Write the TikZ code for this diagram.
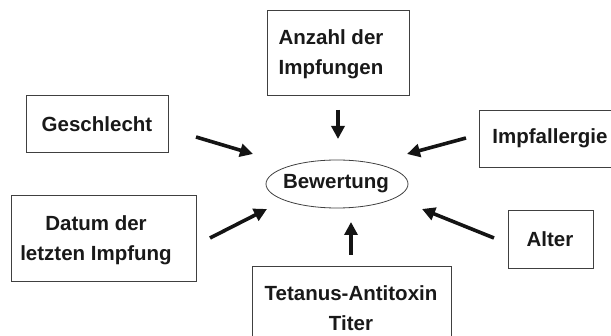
\documentclass[tikz,border=0pt]{standalone}
\usepackage{fontspec}
\setmainfont{Liberation Sans}
\usetikzlibrary{arrows.meta,shapes.geometric}
\begin{document}
\begin{tikzpicture}[x=1pt,y=-1pt,
  box/.style={draw=black!75,line width=0.8pt},
  lbl/.style={font=\fontsize{20.5}{29.5}\selectfont\bfseries,align=center,inner sep=0pt,text=black!90},
  arr/.style={line width=3.6pt,-{Triangle[length=13pt,width=13pt]},black!92}]
\useasboundingbox (0,0) rectangle (611,336);
% boxes
\draw[box] (267,10) rectangle (409,95);
\draw[box] (26,95) rectangle (168,152);
\draw[box] (11,195) rectangle (196,281);
\draw[box] (252,266) rectangle (451,345);
\draw[box] (479,110) rectangle (618,167);
\draw[box] (508,210) rectangle (593,268);
% labels
\node[lbl] (anz) at (331,54) {Anzahl der\\Impfungen};
\node[lbl] (ges) at (97,124) {Geschlecht};
\node[lbl] (dat) at (96,240) {Datum der\\letzten Impfung};
\node[lbl] (tet) at (351,308) {Tetanus-Antitoxin\\Titer};
\node[lbl] (all) at (550,138) {Impfallergie};
\node[lbl] (alt) at (550,239) {Alter};
\node[draw=black!75,line width=0.8pt,ellipse,minimum width=142pt,minimum height=48pt,inner sep=0pt] (bew) at (337,184) {};
\node[lbl] (bewt) at (336,184) {Bewertung};
% arrow ends
\coordinate (a1) at (338,110); \coordinate (a2) at (338,139);
\coordinate (g1) at (196,137); \coordinate (g2) at (253,154);
\coordinate (d1) at (210,238); \coordinate (d2) at (267,209);
\coordinate (t1) at (351,255); \coordinate (t2) at (351,222);
\coordinate (i1) at (466,138); \coordinate (i2) at (407,154);
\coordinate (l1) at (494,238); \coordinate (l2) at (422,209);
\draw[arr] (a1) -- (a2);
\draw[arr] (g1) -- (g2);
\draw[arr] (d1) -- (d2);
\draw[arr] (t1) -- (t2);
\draw[arr] (i1) -- (i2);
\draw[arr] (l1) -- (l2);
\end{tikzpicture}
\end{document}
